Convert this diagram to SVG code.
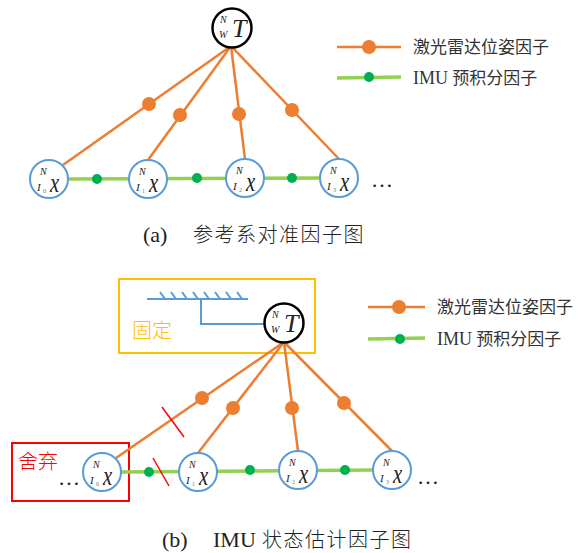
<svg xmlns="http://www.w3.org/2000/svg" width="586" height="553" viewBox="0 0 586 553">
<style>
.bg{fill:#fff}
.or{stroke:#ED7D31;stroke-width:2.5;fill:none}
.gr{stroke:#92D050;stroke-width:3.5;fill:none}
.od{fill:#ED7D31}
.gd{fill:#00B050}
.nb{fill:#fff;stroke:#5B9BD5;stroke-width:2}
.nk{fill:#fff;stroke:#000;stroke-width:2.5}
.it{font-family:"Liberation Serif",serif;font-style:italic;fill:#222}
.sm{font-size:10px}
.si{font-size:11px}
.ss{font-size:6px;fill:#777;font-style:normal}
.bx{font-size:28px}
.bt{font-size:26px}
.dots{font-family:"Liberation Serif",serif;font-size:22px;fill:#222}
.leg{font-family:"Liberation Serif","Noto Sans CJK SC",sans-serif;font-size:17px;fill:#333}
.legl{font-size:18px}
.cap{font-family:"Liberation Serif","Noto Sans CJK SC",serif;fill:#222}
.capl{font-size:22px}
.capc{font-family:"Noto Sans CJK SC",sans-serif;font-size:20px;letter-spacing:1.5px;font-weight:300}
.blue{stroke:#5B9BD5;stroke-width:2;fill:none}
.cut{stroke:#FF0000;stroke-width:1.5}
</style>
<rect class="bg" width="586" height="553"/>

<!-- ===== (a) ===== -->
<g id="connectors-a">
  <line class="gr" x1="68" y1="179" x2="320" y2="178"/>
  <line class="or" x1="231" y1="46" x2="63" y2="165"/>
  <line class="or" x1="231" y1="46" x2="148" y2="160"/>
  <line class="or" x1="231" y1="46" x2="245" y2="159"/>
  <line class="or" x1="231" y1="46" x2="339" y2="159"/>
  <circle class="od" cx="149" cy="104" r="7"/>
  <circle class="od" cx="180" cy="115" r="7"/>
  <circle class="od" cx="239" cy="114" r="7"/>
  <circle class="od" cx="292" cy="110" r="7"/>
  <circle class="gd" cx="97" cy="179" r="5"/>
  <circle class="gd" cx="197" cy="178" r="5"/>
  <circle class="gd" cx="292" cy="178" r="5"/>
</g>
<g id="a-T">
  <circle class="nk" cx="232" cy="28" r="19.5"/>
  <text class="it sm" x="220" y="23">N</text>
  <text class="it sm" x="219" y="38">W</text>
  <text class="it bt" x="232" y="37">T</text>
</g>
<g id="a-x0">
  <circle class="nb" cx="49" cy="179" r="19"/>
  <text class="it sm" x="40" y="175">N</text>
  <text class="it si" x="37" y="191">I</text>
  <text class="it ss" x="43" y="193">0</text>
  <text class="it bx" transform="translate(50 192) scale(0.74 1)">x</text>
</g>
<g id="a-x1">
  <circle class="nb" cx="148" cy="179" r="19"/>
  <text class="it sm" x="139" y="175">N</text>
  <text class="it si" x="136" y="191">I</text>
  <text class="it ss" x="142" y="193">1</text>
  <text class="it bx" transform="translate(149 192) scale(0.74 1)">x</text>
</g>
<g id="a-x2">
  <circle class="nb" cx="245" cy="178" r="19"/>
  <text class="it sm" x="236" y="174">N</text>
  <text class="it si" x="233" y="190">I</text>
  <text class="it ss" x="239" y="192">2</text>
  <text class="it bx" transform="translate(246 191) scale(0.74 1)">x</text>
</g>
<g id="a-x3">
  <circle class="nb" cx="339" cy="178" r="19"/>
  <text class="it sm" x="330" y="174">N</text>
  <text class="it si" x="327" y="190">I</text>
  <text class="it ss" x="333" y="192">3</text>
  <text class="it bx" transform="translate(340 191) scale(0.74 1)">x</text>
</g>
<text class="dots" x="371" y="187">…</text>

<g id="legend-a">
  <line class="or" x1="337" y1="47" x2="401" y2="47"/>
  <circle class="od" cx="369" cy="47" r="7"/>
  <line class="gr" x1="337" y1="78" x2="401" y2="77"/>
  <circle class="gd" cx="369" cy="77" r="5"/>
  <text class="leg" x="413" y="53">激光雷达位姿因子</text>
  <text class="leg" x="413" y="84"><tspan class="legl">IMU</tspan> 预积分因子</text>
</g>

<text class="cap" y="242"><tspan class="capl" x="143">(a)</tspan><tspan class="capc" x="193">参考系对准因子图</tspan></text>

<!-- ===== (b) ===== -->
<g id="fixed-box">
  <rect x="119" y="279" width="196" height="74" fill="none" stroke="#FFC000" stroke-width="2"/>
  <line class="blue" x1="147" y1="299" x2="248" y2="299"/>
  <path class="blue" stroke-width="1.5" d="M160 292l5 7M171 292l5 7M182 292l5 7M193 292l5 7M204 292l5 7M215 292l5 7M226 292l5 7M237 292l5 7"/>
  <path class="blue" d="M201 299V324H264"/>
  <text x="132" y="338" font-family="'Noto Sans CJK SC',sans-serif" font-size="20" fill="#FFC000" font-weight="300">固定</text>
</g>
<g id="discard-box">
  <rect x="12" y="443" width="117" height="58" fill="none" stroke="#FF0000" stroke-width="2"/>
  <text x="18" y="469" font-family="'Noto Sans CJK SC',sans-serif" font-size="20" fill="#FF0000" font-weight="300">舍弃</text>
</g>

<g id="connectors-b">
  <line class="gr" x1="121" y1="472" x2="373" y2="470"/>
  <line class="or" x1="284" y1="342" x2="116" y2="458"/>
  <line class="or" x1="284" y1="342" x2="198" y2="453"/>
  <line class="or" x1="284" y1="342" x2="298" y2="451"/>
  <line class="or" x1="284" y1="342" x2="392" y2="451"/>
  <circle class="od" cx="202" cy="398" r="7"/>
  <circle class="od" cx="233" cy="408" r="7"/>
  <circle class="od" cx="292" cy="408" r="7"/>
  <circle class="od" cx="344" cy="403" r="7"/>
  <circle class="gd" cx="149" cy="472" r="5"/>
  <circle class="gd" cx="250" cy="470" r="5"/>
  <circle class="gd" cx="345" cy="470" r="5"/>
  <line class="cut" x1="162" y1="407" x2="184" y2="437"/>
  <line class="cut" x1="153" y1="458" x2="169" y2="486"/>
</g>
<g id="b-T">
  <circle class="nk" cx="284" cy="323" r="19.5"/>
  <text class="it sm" x="272" y="318">N</text>
  <text class="it sm" x="271" y="333">W</text>
  <text class="it bt" x="284" y="332">T</text>
</g>
<g id="b-x0">
  <circle class="nb" cx="102" cy="472" r="19"/>
  <text class="it sm" x="93" y="468">N</text>
  <text class="it si" x="90" y="484">I</text>
  <text class="it ss" x="96" y="486">0</text>
  <text class="it bx" transform="translate(103 485) scale(0.74 1)">x</text>
</g>
<g id="b-x1">
  <circle class="nb" cx="198" cy="472" r="19"/>
  <text class="it sm" x="189" y="468">N</text>
  <text class="it si" x="186" y="484">I</text>
  <text class="it ss" x="192" y="486">1</text>
  <text class="it bx" transform="translate(199 485) scale(0.74 1)">x</text>
</g>
<g id="b-x2">
  <circle class="nb" cx="298" cy="470" r="19"/>
  <text class="it sm" x="289" y="466">N</text>
  <text class="it si" x="286" y="482">I</text>
  <text class="it ss" x="292" y="484">2</text>
  <text class="it bx" transform="translate(299 483) scale(0.74 1)">x</text>
</g>
<g id="b-x3">
  <circle class="nb" cx="392" cy="470" r="19"/>
  <text class="it sm" x="383" y="466">N</text>
  <text class="it si" x="380" y="482">I</text>
  <text class="it ss" x="386" y="484">3</text>
  <text class="it bx" transform="translate(393 483) scale(0.74 1)">x</text>
</g>
<text class="dots" x="58" y="485">…</text>
<text class="dots" x="417" y="484">…</text>

<g id="legend-b">
  <line class="or" x1="368" y1="307" x2="425" y2="307"/>
  <circle class="od" cx="399" cy="307" r="7"/>
  <line class="gr" x1="368" y1="339" x2="425" y2="338"/>
  <circle class="gd" cx="400" cy="339" r="5"/>
  <text class="leg" x="437" y="313">激光雷达位姿因子</text>
  <text class="leg" x="437" y="345"><tspan class="legl">IMU</tspan> 预积分因子</text>
</g>

<text class="cap" y="547"><tspan class="capl" x="162">(b)</tspan><tspan class="capl" x="213">IMU</tspan><tspan class="capc" x="262">状态估计因子图</tspan></text>
</svg>
